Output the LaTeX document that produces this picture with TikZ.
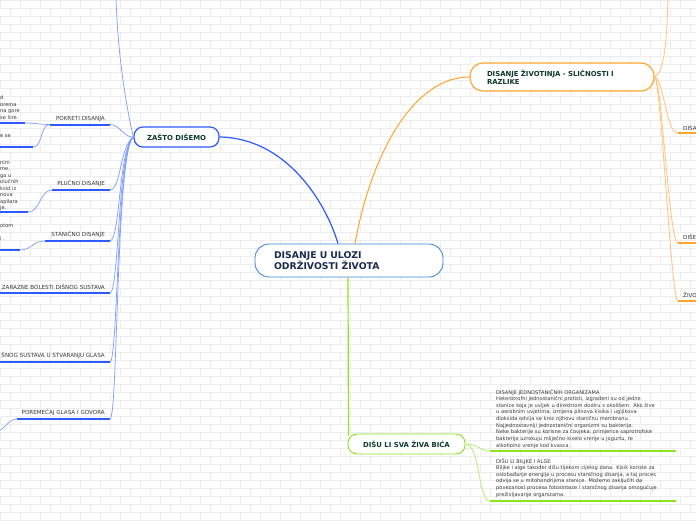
\documentclass[tikz,border=0pt]{standalone}
\usepackage{fontspec}
\setmainfont{DejaVu Sans}
\definecolor{bl}{HTML}{2D5BFF}
\definecolor{bllt}{HTML}{7C9CFF}
\definecolor{cbl}{HTML}{3F8AD8}
\definecolor{org}{HTML}{FFA52E}
\definecolor{orglt}{HTML}{FFC47A}
\definecolor{grn}{HTML}{8AE41F}
\definecolor{grnlt}{HTML}{B4EE70}
\definecolor{ttl}{HTML}{0E3B2A}
\definecolor{navy}{HTML}{1B2A4E}
\definecolor{txt}{HTML}{383838}
\definecolor{brk}{HTML}{EDEDED}
\begin{document}
\begin{tikzpicture}[x=1pt,y=-1pt,
  brick/.style={draw=brk,line width=0.5pt},
  rootbox/.style={draw=cbl,line width=0.9pt,fill=white,rounded corners=14pt,minimum width=188pt,minimum height=33pt,text width=150pt,align=left,inner sep=0pt,font=\bfseries\fontsize{9.3}{11.5}\selectfont,text=navy},
  mainbox/.style={fill=white,rounded corners=9pt,inner sep=0pt,font=\bfseries\fontsize{6.9}{8}\selectfont,text=ttl},
  lbl/.style={font=\fontsize{5.6}{7}\selectfont,text=txt,inner sep=0pt},
  frag/.style={font=\fontsize{5.1}{6.7}\selectfont,text=txt,inner sep=0pt},
  blk/.style={font=\fontsize{5.1}{6.65}\selectfont,text=txt,inner sep=0pt,text width=190pt,align=left},
  bmain/.style={draw=bl,line width=1.2pt},
  bthin/.style={draw=bllt,line width=0.7pt},
  bul/.style={draw=bl,line width=2pt},
  omain/.style={draw=org,line width=1pt},
  othin/.style={draw=orglt,line width=0.8pt},
  oul/.style={draw=org,line width=2pt},
  gmain/.style={draw=grn,line width=1.2pt},
  gthin/.style={draw=grnlt,line width=0.8pt},
  gul/.style={draw=grn,line width=2pt}
]
\useasboundingbox (0,0) rectangle (696,520);
\clip (0,0) rectangle (696,520);
\fill[white] (0,0) rectangle (696,520);
% brick background
\foreach \j in {0,...,65}{
  \draw[brick] (0,8*\j) -- (696,8*\j);
  \foreach \i in {0,...,35}{
    \draw[brick] ({20*\i+10*mod(\j,2)},8*\j) -- ++(0,8);
  }
}

% ---------- main nodes ----------
\node[rootbox] (root) at (349,260.5) {DISANJE U ULOZI\\ODRŽIVOSTI ŽIVOTA};
\node[mainbox,draw=bl,line width=1.2pt,minimum width=85pt,minimum height=20pt] (zasto) at (176.5,137) {ZAŠTO DIŠEMO};
\node[mainbox,draw=org,line width=1.2pt,minimum width=184pt,minimum height=28pt,text width=150pt,align=left,rounded corners=13pt] (zivot) at (562,77) {DISANJE ŽIVOTINJA - SLIČNOSTI I\\RAZLIKE};
\node[mainbox,draw=grn,line width=0.9pt,minimum width=117pt,minimum height=20pt] (disu) at (406.5,444) {DIŠU LI SVA ŽIVA BIĆA};

% main connectors
\draw[bmain] ([xshift=-11pt]root.north) .. controls (325,200) and (285,138) .. (zasto.east);
\draw[omain] ([xshift=6pt]root.north) .. controls (372,150) and (415,77) .. (zivot.west);
\draw[gmain] ([xshift=-1pt]root.south) -- ([xshift=-58pt,yshift=-2pt]disu.north);

% ---------- left branch (ZAŠTO DIŠEMO) ----------
\coordinate (top) at (116,-2);
\draw[bthin] (zasto.west) .. controls (127,110) and (118,60) .. (top);

% POKRETI DISANJA
\coordinate (pR) at (110,124.5); \coordinate (pL) at (50,124.5);
\node[lbl,anchor=base east] (pok) at (105,120) {POKRETI DISANJA};
\draw[bul] (pL) -- (pR);
\draw[bthin] (zasto.west) .. controls (124,138) and (120,124.5) .. (pR);
\coordinate (p1R) at (25,123); \coordinate (p1L) at (-2,123);
\coordinate (p2R) at (33,147); \coordinate (p2L) at (-2,147);
\draw[bul] (p1L) -- (p1R);
\draw[bul] (p2L) -- (p2R);
\draw[bthin] (pL) .. controls (40,124.5) and (35,123) .. (p1R);
\draw[bthin] (pL) .. controls (40,124.5) and (43,147) .. (p2R);
\node[frag,anchor=base west] (f1) at (0,99) {d};
\node[frag,anchor=base west] (f2) at (0,106) {orema};
\node[frag,anchor=base west] (f3) at (0,112.5) {na gore};
\node[frag,anchor=base west] (f4) at (0,119) {se šire.};
\node[frag,anchor=base west] (f5) at (0,137) {e se};

% PLUČNO DISANJE
\coordinate (lR) at (110,190); \coordinate (lL) at (52,190);
\node[lbl,anchor=base east] (plu) at (105,185.5) {PLUČNO DISANJE};
\draw[bul] (lL) -- (lR);
\draw[bthin] (zasto.west) .. controls (120,145) and (121,190) .. (lR);
\coordinate (l1R) at (28,212); \coordinate (l1L) at (-2,212);
\draw[bul] (l1L) -- (l1R);
\draw[bthin] (lL) .. controls (40,190) and (40,212) .. (l1R);
\node[frag,anchor=base west] (g1) at (0,164) {nim};
\node[frag,anchor=base west] (g2) at (0,170.5) {me,};
\node[frag,anchor=base west] (g3) at (0,177) {go u};
\node[frag,anchor=base west] (g4) at (0,183.5) {olučnih};
\node[frag,anchor=base west] (g5) at (0,190) {ksid iz};
\node[frag,anchor=base west] (g6) at (0,196.5) {nova};
\node[frag,anchor=base west] (g7) at (0,203) {apilara};
\node[frag,anchor=base west] (g8) at (0,209.5) {je.};

% STANIČNO DISANJE
\coordinate (sR) at (110,241); \coordinate (sL) at (45,241);
\node[lbl,anchor=base east] (sta) at (105,236.5) {STANIČNO DISANJE};
\draw[bul] (sL) -- (sR);
\draw[bthin] (zasto.west) .. controls (119,146) and (120,241) .. (sR);
\coordinate (s1R) at (20,250); \coordinate (s1L) at (-2,250);
\draw[bul] (s1L) -- (s1R);
\draw[bthin] (sL) .. controls (32,241) and (32,250) .. (s1R);
\node[frag,anchor=base west] (h1) at (0,227) {otom};
\node[frag,anchor=base west] (h2) at (0,240) {i .};

% ZARAZNE BOLESTI
\coordinate (zR) at (110,293); \coordinate (zL) at (-2,293);
\node[lbl,anchor=base east] (zar) at (105,289) {ZARAZNE BOLESTI DIŠNOG SUSTAVA};
\draw[bul] (zL) -- (zR);
\draw[bthin] (zasto.west) .. controls (118,147) and (119,293) .. (zR);

% ... GLASA
\coordinate (uR) at (110,362); \coordinate (uL) at (-2,362);
\node[lbl,anchor=base east] (ulo) at (105,357.5) {ŠNOG SUSTAVA U STVARANJU GLASA};
\draw[bul] (uL) -- (uR);
\draw[bthin] (zasto.west) .. controls (117,148) and (118,362) .. (uR);

% POREMEĆAJ GLASA I GOVORA
\coordinate (rR) at (110,419); \coordinate (rL) at (17,419);
\node[lbl,anchor=base east] (por) at (105,414.5) {POREMEĆAJ GLASA I GOVORA};
\draw[bul] (rL) -- (rR);
\draw[bthin] (zasto.west) .. controls (116,149) and (118,419) .. (rR);
\coordinate (r1) at (-4,432);
\draw[bthin] (rL) .. controls (8,419) and (6,429) .. (r1);

% ---------- right branch (orange) ----------
\coordinate (otop) at (668,-2);
\draw[othin] (zivot.east) .. controls (664,74) and (667,40) .. (otop);
\coordinate (o1L) at (678,133); \coordinate (o1R) at (700,133);
\coordinate (o2L) at (678,243); \coordinate (o2R) at (700,243);
\coordinate (o3L) at (678,301); \coordinate (o3R) at (700,301);
\draw[othin] (zivot.east) .. controls (664,80) and (666,133) .. (o1L);
\draw[othin] (zivot.east) .. controls (662,80) and (669,243) .. (o2L);
\draw[othin] (zivot.east) .. controls (661,80) and (671,301) .. (o3L);
\draw[oul] (o1L) -- (o1R);
\draw[oul] (o2L) -- (o2R);
\draw[oul] (o3L) -- (o3R);
\node[lbl,anchor=base west] (oa) at (683,130) {DISA};
\node[lbl,anchor=base west] (ob) at (683,239) {DIŠE};
\node[lbl,anchor=base west] (oc) at (683,297.5) {ŽIVO};

% ---------- bottom branch (green) ----------
\coordinate (b1L) at (490,451); \coordinate (b1R) at (676,451);
\coordinate (b2L) at (490,501); \coordinate (b2R) at (676,501);
\draw[gthin] (disu.east) .. controls (478,444) and (480,451) .. (b1L);
\draw[gthin] (disu.east) .. controls (480,444) and (478,501) .. (b2L);
\draw[gul] (b1L) -- (b1R);
\draw[gul] (b2L) -- (b2R);
\node[blk,anchor=base west] (t1) at (496,394) {DISANJE JEDNOSTANIČNIH ORGANIZAMA\\
Heterotrofni jednostanični protisti, izgrađeni su od jedne\\
stanice koja je uvijek u direktnom dodiru s okolišem. Ako žive\\
u aerobnim uvjetima, izmjena plinova kisika i ugljikova\\
dioksida odvija se kroz njihovu staničnu membranu.\\
Najjednostavniji jednostanični organizmi su bakterije.\\
Neke bakterije su korisne za čovjeka, primjerice saprotrofske\\
bakterije uzrokuju mliječno-kiselo vrenje u jogurtu, te\\
alkoholno vrenje kod kvasca.};
\node[blk,anchor=base west] (t2) at (496,463) {DIŠU LI BILJKE I ALGE\\
Biljke i alge također dišu tijekom cijelog dana. Kisik koriste za\\
oslobađanje energije u procesu staničnog disanja, a taj proces\\
odvija se u mitohondrijima stanice. Možemo zaključiti da\\
povezanost procesa fotosinteze i staničnog disanja omogućuje\\
preživljavanje organizama.};
\end{tikzpicture}
\end{document}
